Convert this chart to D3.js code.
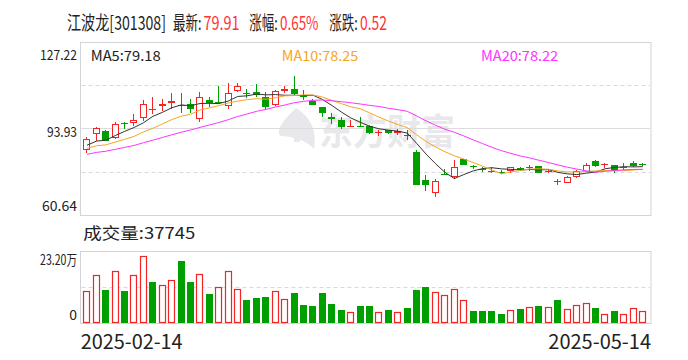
<!DOCTYPE html>
<html><head><meta charset="utf-8">
<script src="https://cdn.jsdelivr.net/npm/d3@7"></script>
<style>body{margin:0;background:#fff}svg{display:block}text{font-family:"Noto Sans CJK SC","Noto Sans",sans-serif}</style>
</head><body><svg id="c" width="688" height="360"></svg>
<script>
// ---------- data ----------
const dates = ["2025-02-14","2025-02-17","2025-02-18","2025-02-19","2025-02-20","2025-02-21","2025-02-24","2025-02-25","2025-02-26","2025-02-27","2025-02-28",
"2025-03-03","2025-03-04","2025-03-05","2025-03-06","2025-03-07","2025-03-10","2025-03-11","2025-03-12","2025-03-13","2025-03-14","2025-03-17","2025-03-18","2025-03-19","2025-03-20","2025-03-21","2025-03-24","2025-03-25","2025-03-26","2025-03-27","2025-03-28","2025-03-31",
"2025-04-01","2025-04-02","2025-04-03","2025-04-07","2025-04-08","2025-04-09","2025-04-10","2025-04-11","2025-04-14","2025-04-15","2025-04-16","2025-04-17","2025-04-18","2025-04-21","2025-04-22","2025-04-23","2025-04-24","2025-04-25","2025-04-28","2025-04-29","2025-04-30",
"2025-05-06","2025-05-07","2025-05-08","2025-05-09","2025-05-12","2025-05-13","2025-05-14"];
const opens  = [85.65,91.69,92.96,90.27,95.9,95.93,97.85,101.05,102.47,103.6,103.08,103.36,97.7,104.9,104.0,102.58,108.47,107.47,107.98,105.93,103.08,108.24,109.24,106.7,104.6,102.08,98.24,97.2,94.62,95.0,94.89,92.31,93.23,92.31,91.54,84.88,74.1,69.0,76.4,75.14,82.07,79.35,78.35,77.6,77.3,77.68,78.72,78.9,79.49,77.3,73.5,73.06,75.14,77.18,81.3,79.85,79.76,78.9,80.76,80.1];
const highs  = [90.77,94.62,93.2,96.31,96.3,99.51,104.9,105.9,105.17,107.47,107.47,105.17,107.98,106.17,110.3,111.3,111.3,109.2,111.05,107.98,108.74,110.3,114.13,108.74,105.4,102.1,100.0,98.24,97.2,98.24,95.2,93.35,93.35,93.62,93.35,85.65,76.14,74.37,78.22,81.8,82.3,79.99,79.22,79.22,77.9,79.22,79.22,79.99,79.6,78.22,74.6,75.5,78.0,80.76,81.8,80.76,80.0,80.5,81.5,80.5];
const lows   = [84.38,89.23,89.0,90.0,93.62,94.89,96.93,99.5,100.78,101.3,100.0,100.0,96.54,102.08,103.5,101.3,107.98,105.66,106.17,101.3,102.58,107.47,107.0,104.9,102.85,98.24,95.66,93.85,94.6,94.6,92.0,91.04,91.9,91.54,89.5,72.2,69.98,67.44,75.9,74.37,79.8,78.45,77.18,76.9,76.4,76.68,77.68,77.68,76.8,76.68,72.06,72.83,74.9,77.0,79.0,78.7,76.9,77.9,79.22,79.6];
const closes = [89.77,94.0,89.23,95.66,95.5,97.2,103.2,101.55,103.2,104.4,102.7,101.55,105.9,103.6,103.8,107.7,110.3,107.2,106.9,102.3,108.24,109.0,107.2,106.17,103.08,100.0,97.47,94.62,94.89,94.7,92.31,92.58,92.08,92.85,91.04,72.3,72.06,73.6,76.14,79.22,79.99,79.1,78.1,77.7,77.1,78.99,77.95,79.1,76.91,77.5,73.7,75.14,77.68,79.76,79.49,80.1,77.68,79.1,79.39,79.91];
// volume in 万
const volumes = [10.2,15.4,10.6,16.7,10.3,15.4,21.7,13.2,12.2,13.8,20.0,13.2,15.7,9.3,11.5,16.7,10.9,7.4,8.0,8.35,10.2,7.6,9.65,5.75,5.4,9.65,6.1,4.1,3.7,5.4,5.4,3.5,4.1,3.5,4.8,10.6,11.6,10.0,9.0,10.95,7.4,3.8,3.8,3.8,2.8,4.1,4.45,5.1,5.4,5.1,7.4,4.45,5.75,6.4,4.8,2.8,3.8,2.8,4.8,3.7745];
// closes of the sessions before the window (only used by the moving averages)
const priorCloses = [79.5,80.2,81.0,80.6,81.8,82.5,81.9,82.8,83.4,83.3,84.2,85.6,84.9,85.3,85.5,86.1,87.4,86.8,87.4];
const priceTicks = [127.22, 93.93, 60.64];
const volTicks = [23.20, 0];
const maPeriods = [5, 10, 20];
const maLast = ["79.18", "78.25", "78.22"];
const maColors = ["#333333", "#f5a623", "#ff33ff"];
const headerParts = ["江波龙[301308]", "最新:", "79.91", "涨幅:", "0.65%", "涨跌:", "0.52"];

// ---------- drawing ----------
const svg = d3.select("#c");
const RED = "#f22424", GREEN = "#009f00", BORDER = "#d3d3da";
const P = {l: 80.5, r: 651, t: 42, b: 215};
const V = {t: 251, b: 323};

// text placed at (x, y), horizontally scaled so that it spans width w
function label(parent, str, x0, y0, size, w, fill, anchor) {
  const g = parent.append("g");
  const t = g.append("text").attr("x", 0).attr("y", 0).attr("font-size", size).attr("fill", fill)
    .attr("text-anchor", anchor || "start").text(str);
  const L = t.node().getComputedTextLength();
  const s = w ? w / L : 1;
  g.attr("transform", `translate(${x0},${y0}) scale(${s},1)`);
  return t;
}

// header
const hX = [67, 173, 203.5, 249.3, 280, 329.3, 360], hW = [99, 28.5, 36, 28.5, 38.5, 28.5, 27];
headerParts.forEach((s, i) => label(svg, s, hX[i], 29.5, 19, hW[i], (i % 2 === 0 && i > 0) ? "#ff3333" : "#222"));

const n = closes.length;
const x = d3.scaleBand().domain(d3.range(n)).range([82.3, 647.5]).paddingInner(0.22).paddingOuter(0.11);
const y = d3.scaleLinear().domain([60.64, 127.22]).range([P.b, P.t]);
const yv = d3.scaleLinear().domain([0, 23.20]).range([V.b, V.t]);

// watermark
const wm = svg.append("g").attr("fill", "#e8e8ec");
wm.append("path").attr("d", "M296 108 C306 114 318 126 314 149 C306 140 292 136 280 136 C276 128 284 120 296 108 Z M288 118 C296 124 300 132 300 142 L294 142 C294 132 292 126 288 118 Z");
label(wm, "东方财富", 319, 145, 36, 136, "#e8e8ec").attr("font-weight", "bold");

// price panel frame & grid
svg.append("rect").attr("x", P.l).attr("y", P.t + 0.5).attr("width", P.r - P.l).attr("height", P.b - P.t).attr("fill", "none").attr("stroke", BORDER);
const mid = y((priceTicks[0] + priceTicks[2]) / 2);
[ (P.t + mid) / 2, (mid + P.b) / 2 ].forEach(v => svg.append("line").attr("x1", P.l + 1).attr("x2", P.r - 1)
  .attr("y1", Math.round(v) + 0.5).attr("y2", Math.round(v) + 0.5).attr("stroke", "#d9d9d9").attr("stroke-dasharray", "4,3"));
svg.append("line").attr("x1", P.l + 1).attr("x2", P.r - 1).attr("y1", Math.round(y(priceTicks[1])) + 0.5).attr("y2", Math.round(y(priceTicks[1])) + 0.5).attr("stroke", "#dcdcdc");

// price tick labels
const tickW = [37, 30, 35];
priceTicks.forEach((t, i) => {
  const off = i === 0 ? 18 : (i === 1 ? 8.5 : -4);
  label(svg, t.toFixed(2), 77, y(t) + off, 14, tickW[i], "#222", "end");
});

// candles
const cg = svg.append("g");
for (let i = 0; i < n; i++) {
  const o = opens[i], c = closes[i], h = highs[i], l = lows[i];
  const up = c >= o;
  const col = up ? RED : GREEN;
  const L = Math.round(x(i)), W = 7, cx = L + 3.5;
  const yt = Math.round(y(Math.max(o, c))), yb = Math.round(y(Math.min(o, c)));
  const yh = Math.round(y(h)), yl = Math.round(y(l));
  if (yb - yt < 2) {
    cg.append("line").attr("x1", cx).attr("x2", cx).attr("y1", yh).attr("y2", yl).attr("stroke", col);
    cg.append("rect").attr("x", L).attr("y", yt).attr("width", W).attr("height", Math.max(1, yb - yt)).attr("fill", col);
  } else if (up) {
    cg.append("line").attr("x1", cx).attr("x2", cx).attr("y1", yh).attr("y2", yt).attr("stroke", col);
    cg.append("line").attr("x1", cx).attr("x2", cx).attr("y1", yb).attr("y2", yl).attr("stroke", col);
    cg.append("rect").attr("x", L + 0.5).attr("y", yt + 0.5).attr("width", W - 1).attr("height", yb - yt - 1).attr("fill", "#fff").attr("stroke", col);
  } else {
    cg.append("line").attr("x1", cx).attr("x2", cx).attr("y1", yh).attr("y2", yl).attr("stroke", col);
    cg.append("rect").attr("x", L).attr("y", yt).attr("width", W).attr("height", yb - yt).attr("fill", col);
  }
}

// moving averages
const all = priorCloses.concat(closes);
const off0 = priorCloses.length;
maPeriods.forEach((p, k) => {
  const vals = closes.map((_, i) => d3.mean(all.slice(off0 + i - p + 1, off0 + i + 1)));
  const line = d3.line().x((d, i) => x(i) + x.bandwidth() / 2).y(d => y(d));
  svg.append("path").datum(vals).attr("d", line).attr("fill", "none").attr("stroke", maColors[k]).attr("stroke-width", 1);
});
const maX = [90.7, 281.7, 481], maW = [70, 76.7, 77.3];
maPeriods.forEach((p, k) => label(svg, `MA${p}:${maLast[k]}`, maX[k], 61, 14, maW[k], k === 0 ? "#222" : maColors[k]));

// volume panel
label(svg, "成交量:" + Math.round(volumes[n - 1] * 10000), 83.3, 239, 16, 112, "#222");
svg.append("rect").attr("x", P.l).attr("y", V.t + 0.5).attr("width", P.r - P.l).attr("height", V.b - V.t).attr("fill", "none").attr("stroke", BORDER);
const vm = Math.round((V.t + V.b) / 2) + 0.5;
svg.append("line").attr("x1", P.l + 1).attr("x2", P.r - 1).attr("y1", vm).attr("y2", vm).attr("stroke", "#d9d9d9").attr("stroke-dasharray", "4,3");
label(svg, volTicks[0].toFixed(2) + "万", 77, yv(volTicks[0]) + 14, 14, 37, "#222", "end");
label(svg, String(volTicks[1]), 77, yv(volTicks[1]) - 3, 14, null, "#222", "end");

const vg = svg.append("g");
for (let i = 0; i < n; i++) {
  const prev = i === 0 ? priorCloses[priorCloses.length - 1] : closes[i - 1];
  const up = closes[i] >= prev;
  const L = Math.round(x(i)), W = 7;
  const yt = Math.round(yv(volumes[i])), yb = V.b;
  if (up) vg.append("rect").attr("x", L + 0.5).attr("y", yt + 0.5).attr("width", W - 1).attr("height", yb - yt - 1).attr("fill", "#fff").attr("stroke", RED).attr("stroke-width", 1.2);
  else vg.append("rect").attr("x", L).attr("y", yt).attr("width", W).attr("height", yb - yt).attr("fill", GREEN);
}

// date labels
label(svg, dates[0], 80.7, 348.5, 20, 102, "#222");
label(svg, dates[n - 1], 548.3, 348.5, 20, 102.7, "#222");
</script></body></html>
